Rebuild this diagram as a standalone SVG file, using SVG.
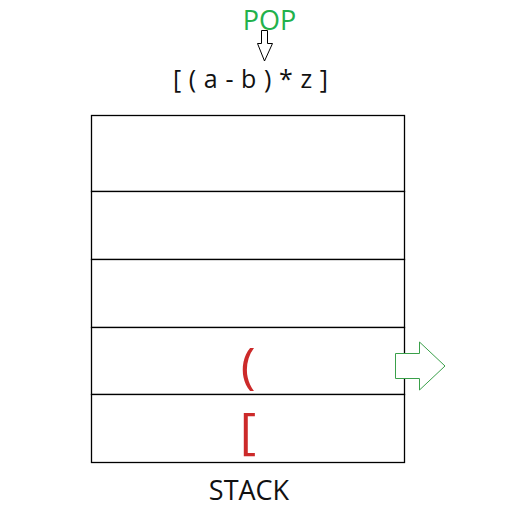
<svg xmlns="http://www.w3.org/2000/svg" width="518" height="518" viewBox="0 0 518 518">
<style>
.cell{fill:#fff;stroke:#000;stroke-width:1.3}
.t{font-family:"Open Sans","Liberation Sans",sans-serif;fill:#111}
.red{font-family:"Open Sans","Liberation Sans",sans-serif;fill:#cc2a2a;text-anchor:middle}
</style>
<rect width="518" height="518" fill="#fff"/>
<g id="pop-label"><text class="t" x="269.5" y="30" font-size="27" text-anchor="middle" style="fill:#22b14c">POP</text></g>
<g id="expression"><text class="t" x="173" y="88" font-size="25" textLength="155" lengthAdjust="spacing">[ ( a - b ) * z ]</text></g>
<g id="stack">
<rect id="cell1" class="cell" x="91.5" y="115.5" width="313" height="76"/>
<rect id="cell2" class="cell" x="91.5" y="191.5" width="313" height="68"/>
<rect id="cell3" class="cell" x="91.5" y="259.5" width="313" height="68"/>
<rect id="cell4" class="cell" x="91.5" y="327.5" width="313" height="67"/>
<rect id="cell5" class="cell" x="91.5" y="394.5" width="313" height="68"/>
<text class="red" x="248" y="383" font-size="50">(</text>
<text class="red" x="248" y="448" font-size="50">[</text>
</g>
<g id="stack-label"><text class="t" x="249" y="500" font-size="27" text-anchor="middle">STACK</text></g>
<g id="connectors" fill="#fff" stroke-width="1">
<path d="M261.5 30.5 H267.5 V43.5 H272.5 L264.5 61 L257.5 43.5 H261.5 Z" stroke="#000"/>
<path d="M395.5 353.5 H419.5 V342 L445 366 L419.5 390 V378.5 H395.5 Z" stroke="#3aa04a"/>
</g>
</svg>
